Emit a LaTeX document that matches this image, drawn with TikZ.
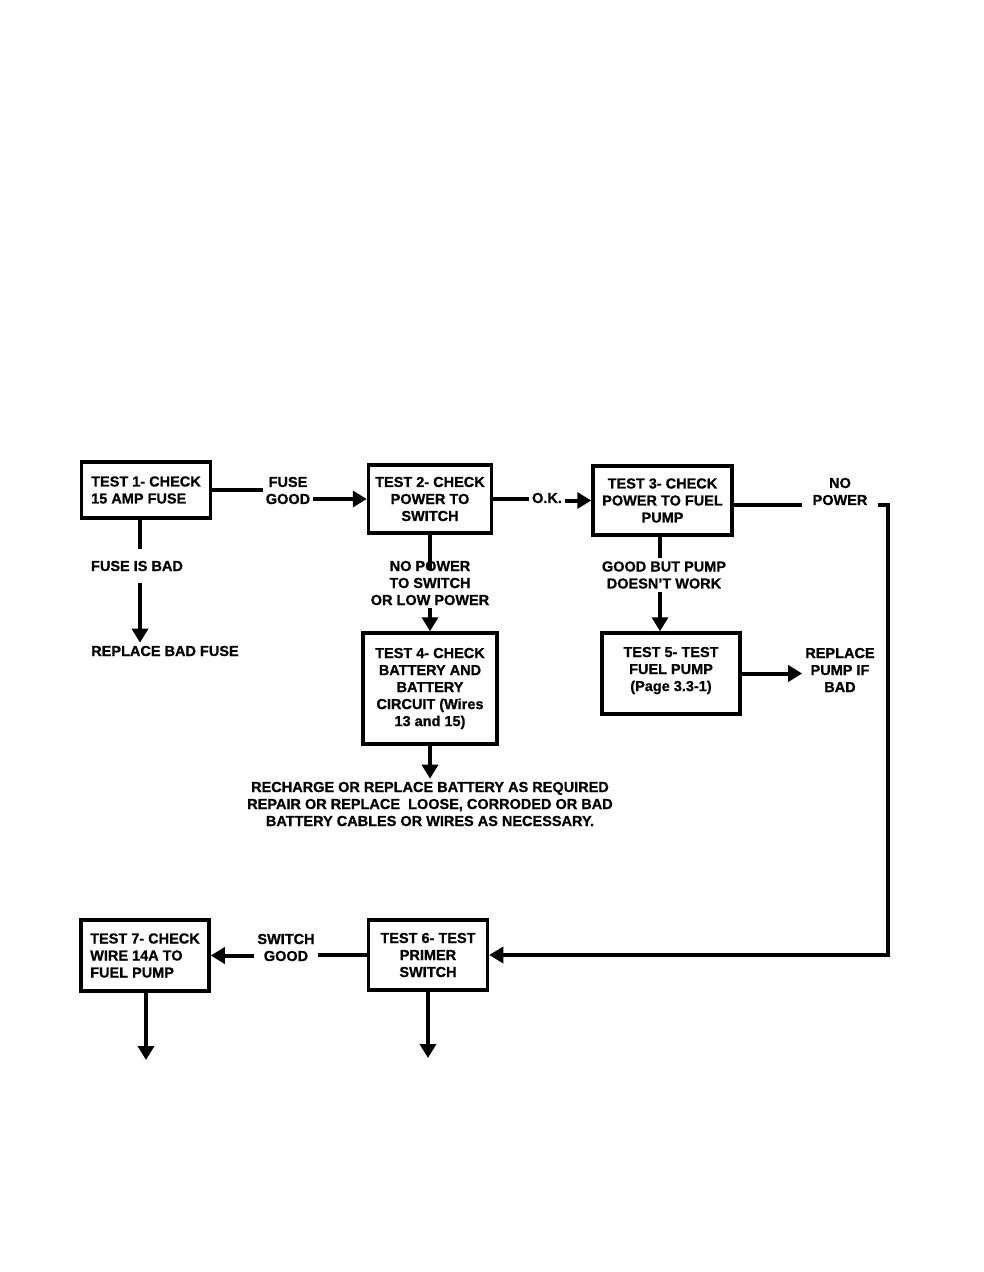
\documentclass[tikz,border=0pt]{standalone}
\usepackage{fontspec}
\setmainfont[BoldFeatures={FakeBold=0.8}]{Liberation Sans}
\usetikzlibrary{arrows.meta,calc}
\begin{document}
\begin{tikzpicture}[x=1pt,y=-1pt,
  font=\bfseries\fontsize{14.5}{17}\selectfont,
  box/.style={draw, line width=3.5pt, align=center, inner sep=0pt},
  lbl/.style={align=center, inner sep=3pt},
  conn/.style={line width=4pt},
  arr/.style={line width=4pt, -{Triangle[length=14pt,width=16pt]}}]
\useasboundingbox (0,0) rectangle (983,1272);
% boxes
\node[box, minimum width=129, minimum height=56, align=left] (b1) at (146,490) {TEST 1- CHECK\\15 AMP FUSE};
\node[box, minimum width=123, minimum height=68] (b2) at (430,499) {TEST 2- CHECK\\POWER TO\\SWITCH};
\node[box, minimum width=139, minimum height=69] (b3) at (662.5,500.5) {TEST 3- CHECK\\POWER TO FUEL\\PUMP};
\node[box, minimum width=134, minimum height=111] (b4) at (430,688.5) {TEST 4- CHECK\\BATTERY AND\\BATTERY\\CIRCUIT (Wires\\13 and 15)};
\node[box, minimum width=138, minimum height=81] (b5) at (671,673.5) {TEST 5- TEST\\FUEL PUMP\\(Page 3.3-1)\\[-8pt]};
\node[box, minimum width=119, minimum height=70] (b6) at (428,955) {TEST 6- TEST\\PRIMER\\SWITCH};
\node[box, minimum width=128, minimum height=71, align=left] (b7) at (145,955.5) {TEST 7- CHECK\\WIRE 14A TO\\FUEL PUMP};
% labels
\node[lbl] (fg) at (288,490.5) {FUSE\\GOOD};
\node[lbl] (ok) at (547,498) {O.K.};
\node[lbl, inner xsep=10pt] (np) at (840,491.5) {NO\\POWER};
\node[lbl, inner ysep=12pt] (fib) at (137,566) {FUSE IS BAD};
\node[lbl] (rbf) at (165,651) {REPLACE BAD FUSE};
\node[lbl] (np2) at (430,583) {NO POWER\\TO SWITCH\\OR LOW POWER};
\node[lbl] (gb) at (664,575) {GOOD BUT PUMP\\DOESN'T WORK};
\node[lbl] (rec) at (430,804) {RECHARGE OR REPLACE BATTERY AS REQUIRED\\REPAIR OR REPLACE\ \ LOOSE, CORRODED OR BAD\\BATTERY CABLES OR WIRES AS NECESSARY.};
\node[lbl] (rp) at (840,670) {REPLACE\\PUMP IF\\BAD};
\node[lbl] (sg) at (286,947.5) {SWITCH\\GOOD};
% helper coordinates
\coordinate (x1) at (140,0);
\coordinate (x3) at (660,0);
\coordinate (c1) at (888,0);
\coordinate (e7) at (146,1060);
\coordinate (e6) at (428,1058);
% connectors
\draw[conn] (b1.east) -- (b1.east -| fg.west);
\draw[arr] (b2.west -| fg.east) -- (b2.west);
\draw[conn] (b2.east) -- (b2.east -| ok.west);
\draw[arr] (b3.west -| ok.east) -- (b3.west);
\draw[conn] ($(b3.east)+(0,4)$) -- ($(b3.east -| np.west)+(0,4)$);
\draw[arr] ($(b3.east -| np.east)+(0,4)$) -- ($(b3.east -| c1)+(0,4)$) -- (b6.east -| c1) -- (b6.east);
\draw[conn] (b1.south -| x1) -- (fib.north -| x1);
\draw[arr] (fib.south -| x1) -- (rbf.north -| x1);
\draw[conn] (b2.south) -- ($(b2.south |- np2.north)+(0,12)$);
\draw[arr] (b4.north |- np2.south) -- (b4.north);
\draw[conn] (b3.south -| x3) -- (gb.north -| x3);
\draw[arr] (gb.south -| x3) -- (b5.north -| x3);
\draw[arr] (b4.south) -- (b4.south |- rec.north);
\draw[arr] (b5.east) -- (b5.east -| rp.west);
\draw[conn] (b6.west) -- (b6.west -| sg.east);
\draw[arr] (b7.east -| sg.west) -- (b7.east);
\draw[arr] (b7.south -| e7) -- (e7);
\draw[arr] (b6.south) -- (b6.south |- e6);
\end{tikzpicture}
\end{document}
